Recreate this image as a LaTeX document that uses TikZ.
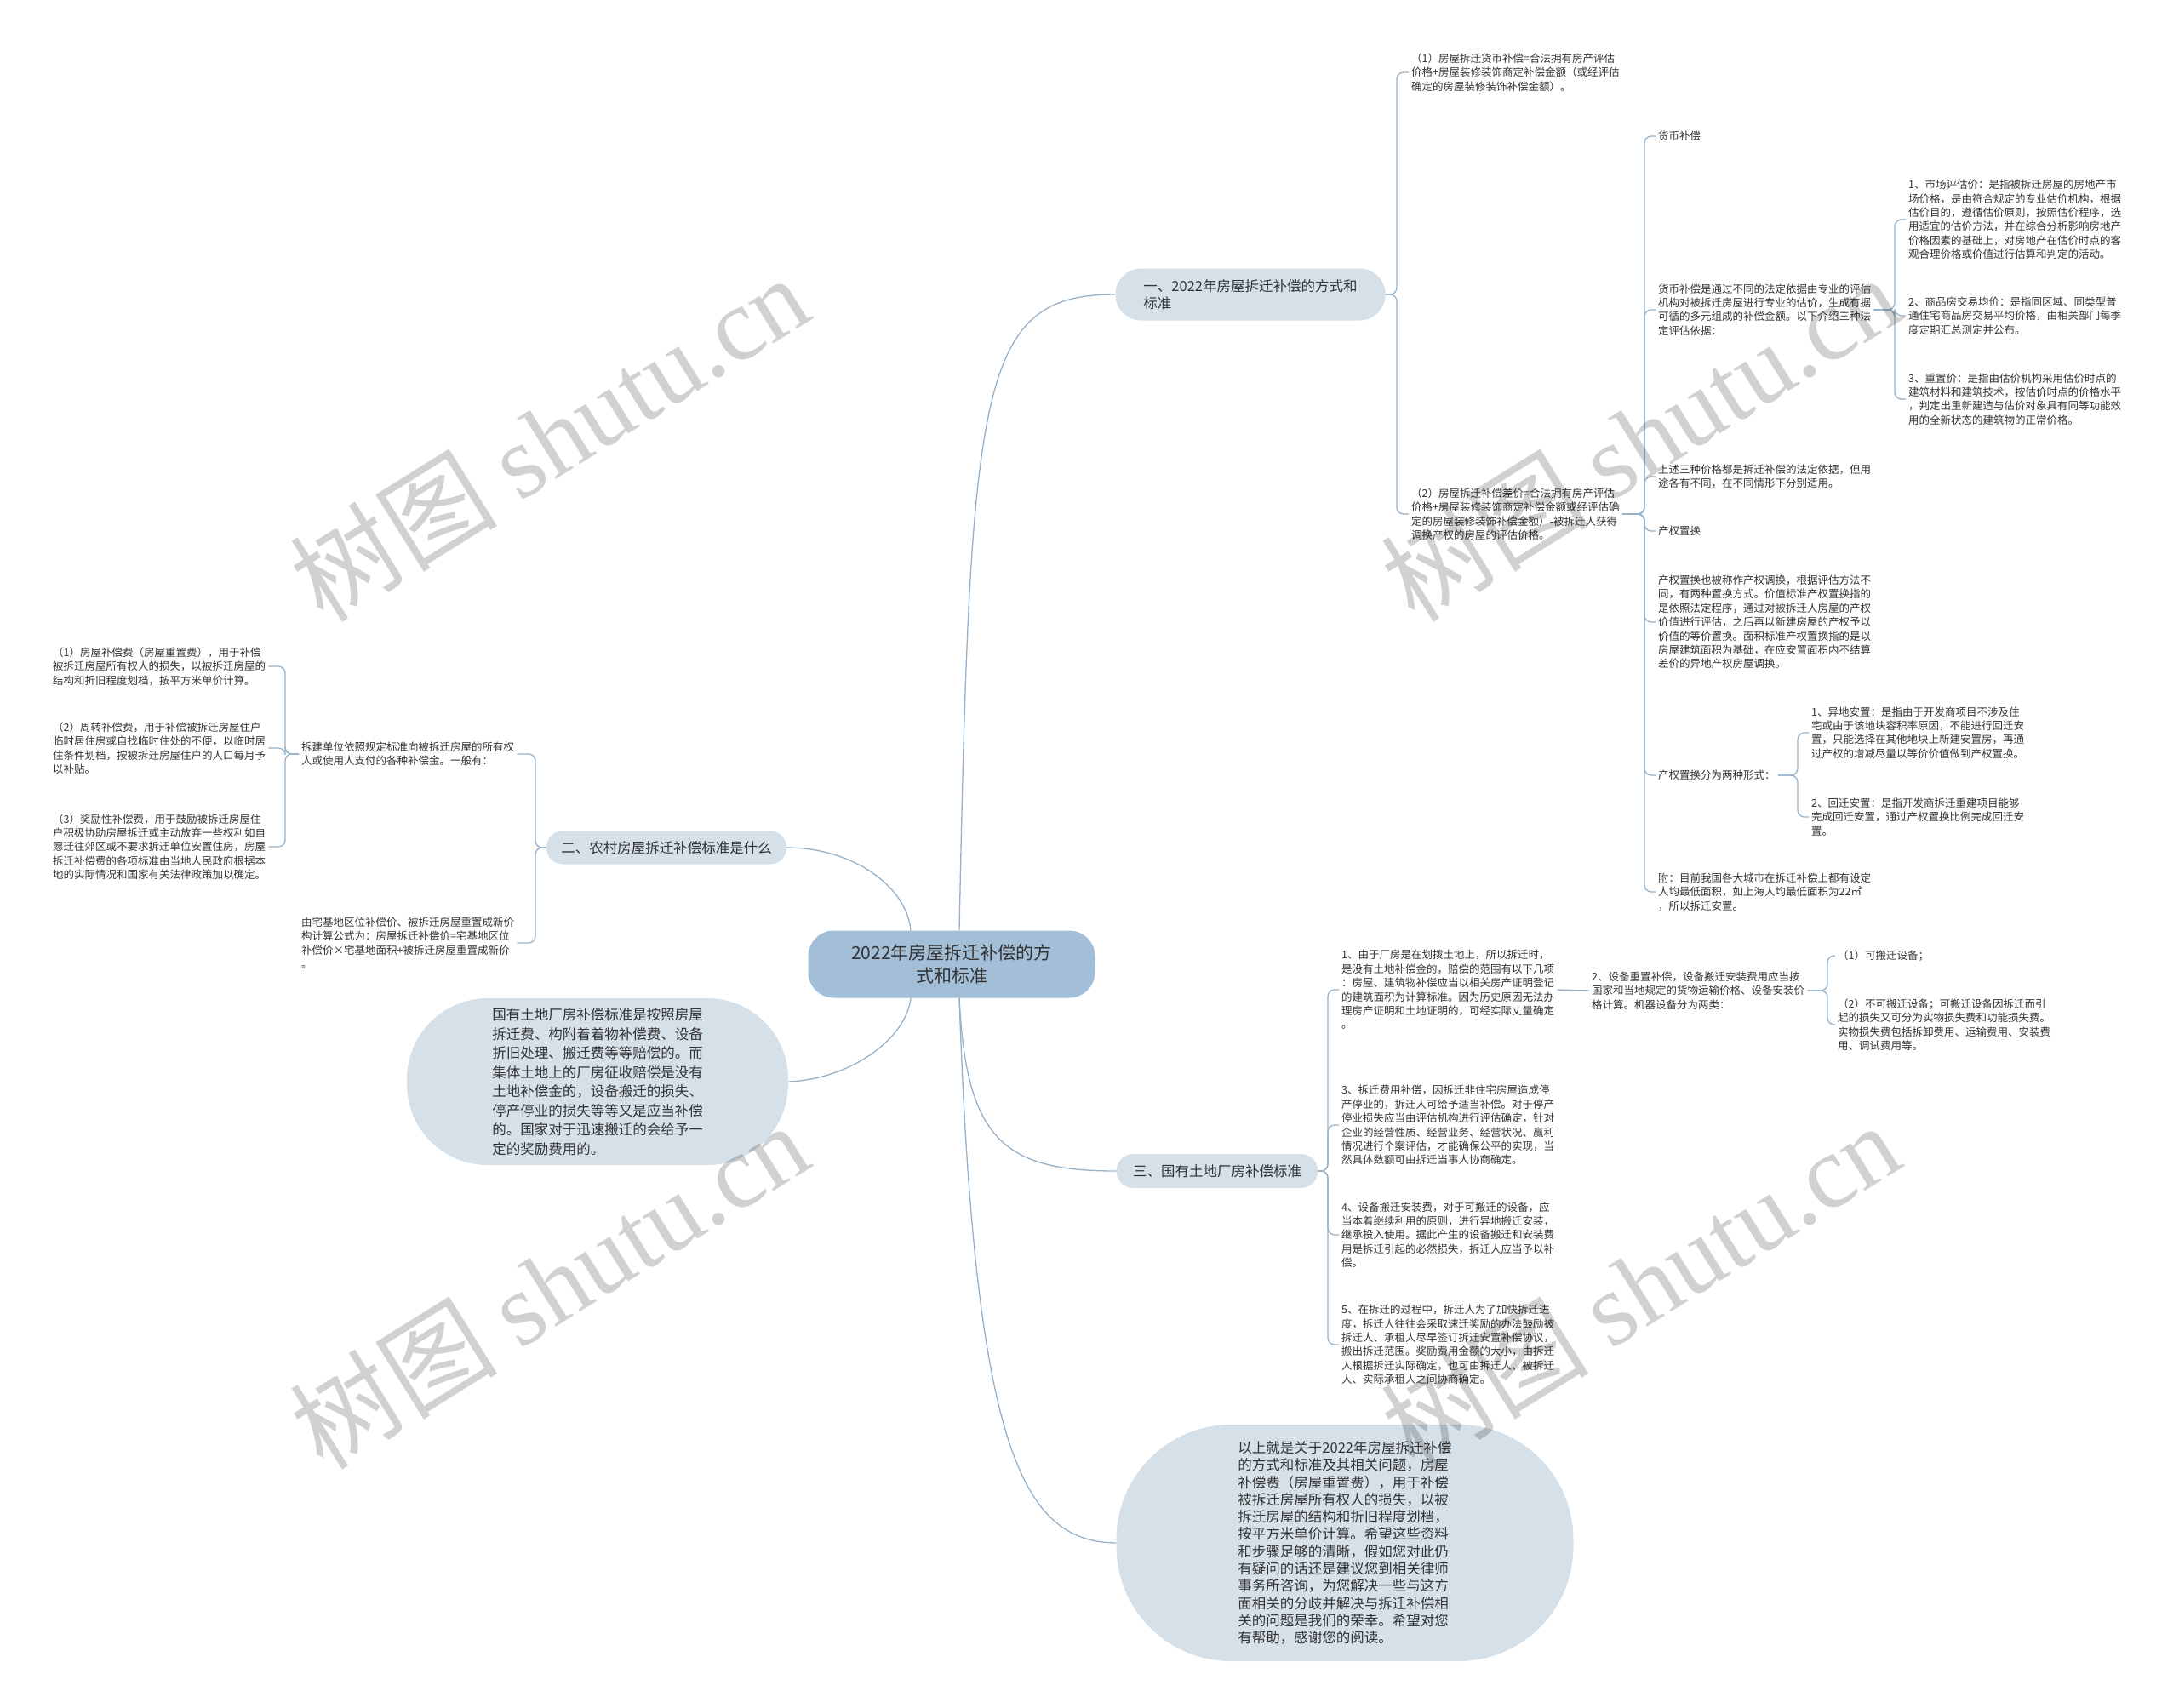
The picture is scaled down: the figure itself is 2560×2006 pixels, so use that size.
\documentclass[tikz,border=0pt]{standalone}
\usepackage{fontspec}
\setmainfont{Noto Sans CJK SC}
\newfontfamily\wmlatin{Liberation Serif}
\usetikzlibrary{positioning, calc}

\definecolor{linkc}{RGB}{150,177,200}
\definecolor{boxc}{RGB}{213,224,233}
\definecolor{rootc}{RGB}{163,190,215}
\definecolor{txt}{RGB}{51,51,51}

\begin{document}
\begin{tikzpicture}[x=1pt, y=-1pt,
    link/.style={draw=linkc, line width=1.3pt},
    brace/.style={link, rounded corners=8pt},
    leaf/.style={font=\fontsize{12.5}{16.4}\selectfont, text=txt, align=left, inner sep=3pt, anchor=west},
    topic/.style={fill=boxc, text=txt, font=\fontsize{16.5}{20}\selectfont, align=left, inner sep=0pt},
    bubble/.style={fill=boxc, text=txt, align=left, inner sep=0pt},
    wmark/.style={font=\fontsize{122}{128}\selectfont, text=black, text opacity=0.18, rotate=32}]
    \useasboundingbox (0,0) rectangle (2560,2006);

    % Root
    \node[fill=rootc, text=txt, font=\fontsize{21}{27}\selectfont, align=center, minimum width=337, minimum height=79, rounded corners=30, inner sep=0pt] (root) at (1118,1133) {2022年房屋拆迁补偿的方\\式和标准};

    % Main branches
    \node[topic, minimum width=317, minimum height=61, rounded corners=30] (b1) at (1469,346) {一、2022年房屋拆迁补偿的方式和\\标准};
    \node[topic, minimum width=282, minimum height=39, rounded corners=19] (b2) at (783,996) {二、农村房屋拆迁补偿标准是什么};
    \node[topic, minimum width=237, minimum height=40, rounded corners=20] (b3) at (1430,1376) {三、国有土地厂房补偿标准};
    \node[bubble, font=\fontsize{16.5}{22.5}\selectfont, minimum width=448, minimum height=196, rounded corners=95] (note1) at (702,1271) {国有土地厂房补偿标准是按照房屋\\拆迁费、构附着着物补偿费、设备\\折旧处理、搬迁费等等赔偿的。而\\集体土地上的厂房征收赔偿是没有\\土地补偿金的，设备搬迁的损失、\\停产停业的损失等等又是应当补偿\\的。国家对于迅速搬迁的会给予一\\定的奖励费用的。};
    \node[bubble, font=\fontsize{16.5}{20.3}\selectfont, minimum width=537, minimum height=278, rounded corners=135] (note2) at (1580,1813) {以上就是关于2022年房屋拆迁补偿\\的方式和标准及其相关问题，房屋\\补偿费（房屋重置费），用于补偿\\被拆迁房屋所有权人的损失，以被\\拆迁房屋的结构和折旧程度划档，\\按平方米单价计算。希望这些资料\\和步骤足够的清晰，假如您对此仍\\有疑问的话还是建议您到相关律师\\事务所咨询，为您解决一些与这方\\面相关的分歧并解决与拆迁补偿相\\关的问题是我们的荣幸。希望对您\\有帮助，感谢您的阅读。};

    % Root links
    \draw[link] ([xshift=9]root.north) .. controls (1140,450) and (1150,346) .. (b1.west);
    \draw[link] ([xshift=9]root.south) .. controls (1135,1340) and (1180,1376) .. (b3.west);
    \draw[link] ([xshift=9]root.south) .. controls (1145,1700) and (1200,1812) .. (note2.west);
    \draw[link] (b2.east) .. controls (1000,996) and (1065,1040) .. ([xshift=-48]root.north);
    \draw[link] (note1.east) .. controls (1000,1268) and (1065,1220) .. ([xshift=-48]root.south);

    % Branch one
    \node[leaf] (m1) at (1655,85) {（1）房屋拆迁货币补偿=合法拥有房产评估\\价格+房屋装修装饰商定补偿金额（或经评估\\确定的房屋装修装饰补偿金额）。};
    \node[leaf] (m2) at (1655,604) {（2）房屋拆迁补偿差价=合法拥有房产评估\\价格+房屋装修装饰商定补偿金额或经评估确\\定的房屋装修装饰补偿金额）-被拆迁人获得\\调换产权的房屋的评估价格。};
    \coordinate (sp1) at (1641,0);
    \foreach \c in {m1,m2}
        \draw[brace] (b1.east) -- (b1.east -| sp1) |- (\c.west);

    \node[leaf] (m2a) at (1945,160) {货币补偿};
    \node[leaf] (m2b) at (1945,364) {货币补偿是通过不同的法定依据由专业的评估\\机构对被拆迁房屋进行专业的估价，生成有据\\可循的多元组成的补偿金额。以下介绍三种法\\定评估依据：};
    \node[leaf] (m2c) at (1945,560) {上述三种价格都是拆迁补偿的法定依据，但用\\途各有不同，在不同情形下分别适用。};
    \node[leaf] (m2d) at (1945,624) {产权置换};
    \node[leaf] (m2e) at (1945,731) {产权置换也被称作产权调换，根据评估方法不\\同，有两种置换方式。价值标准产权置换指的\\是依照法定程序，通过对被拆迁人房屋的产权\\价值进行评估，之后再以新建房屋的产权予以\\价值的等价置换。面积标准产权置换指的是以\\房屋建筑面积为基础，在应安置面积内不结算\\差价的异地产权房屋调换。};
    \node[leaf] (m2f) at (1945,911) {产权置换分为两种形式：};
    \node[leaf] (m2g) at (1945,1048) {附：目前我国各大城市在拆迁补偿上都有设定\\人均最低面积，如上海人均最低面积为22㎡\\，所以拆迁安置。};
    \coordinate (sp2) at (1932,0);
    \foreach \c in {m2a,m2b,m2c,m2d,m2e,m2f,m2g}
        \draw[brace] (m2.east) -- (m2.east -| sp2) |- (\c.west);

    \node[leaf] (v1) at (2239,258) {1、市场评估价：是指被拆迁房屋的房地产市\\场价格，是由符合规定的专业估价机构，根据\\估价目的，遵循估价原则，按照估价程序，选\\用适宜的估价方法，并在综合分析影响房地产\\价格因素的基础上，对房地产在估价时点的客\\观合理价格或价值进行估算和判定的活动。};
    \node[leaf] (v2) at (2239,371) {2、商品房交易均价：是指同区域、同类型普\\通住宅商品房交易平均价格，由相关部门每季\\度定期汇总测定并公布。};
    \node[leaf] (v3) at (2239,469) {3、重置价：是指由估价机构采用估价时点的\\建筑材料和建筑技术，按估价时点的价格水平\\，判定出重新建造与估价对象具有同等功能效\\用的全新状态的建筑物的正常价格。};
    \coordinate (sp3) at (2226,0);
    \foreach \c in {v1,v2,v3}
        \draw[brace] (m2b.east) -- (m2b.east -| sp3) |- (\c.west);

    \node[leaf] (r1) at (2125,861) {1、异地安置：是指由于开发商项目不涉及住\\宅或由于该地块容积率原因，不能进行回迁安\\置，只能选择在其他地块上新建安置房，再通\\过产权的增减尽量以等价价值做到产权置换。};
    \node[leaf] (r2) at (2125,960) {2、回迁安置：是指开发商拆迁重建项目能够\\完成回迁安置，通过产权置换比例完成回迁安\\置。};
    \coordinate (sp4) at (2112,0);
    \foreach \c in {r1,r2}
        \draw[brace] (m2f.east) -- (m2f.east -| sp4) |- (\c.west);

    % Branch two
    \node[leaf] (n1) at (351,886) {拆建单位依照规定标准向被拆迁房屋的所有权\\人或使用人支付的各种补偿金。一般有：};
    \node[leaf] (n2) at (351,1108) {由宅基地区位补偿价、被拆迁房屋重置成新价\\构计算公式为：房屋拆迁补偿价=宅基地区位\\补偿价×宅基地面积+被拆迁房屋重置成新价\\。};
    \coordinate (sp5) at (629,0);
    \foreach \c in {n1,n2}
        \draw[brace] (b2.west) -- (b2.west -| sp5) |- (\c.east);

    \node[leaf] (f1) at (59,783) {（1）房屋补偿费（房屋重置费），用于补偿\\被拆迁房屋所有权人的损失，以被拆迁房屋的\\结构和折旧程度划档，按平方米单价计算。};
    \node[leaf] (f2) at (59,879) {（2）周转补偿费，用于补偿被拆迁房屋住户\\临时居住房或自找临时住处的不便，以临时居\\住条件划档，按被拆迁房屋住户的人口每月予\\以补贴。};
    \node[leaf] (f3) at (59,995) {（3）奖励性补偿费，用于鼓励被拆迁房屋住\\户积极协助房屋拆迁或主动放弃一些权利如自\\愿迁往郊区或不要求拆迁单位安置住房，房屋\\拆迁补偿费的各项标准由当地人民政府根据本\\地的实际情况和国家有关法律政策加以确定。};
    \coordinate (sp6) at (335,0);
    \foreach \c in {f1,f2,f3}
        \draw[brace] (n1.west) -- (n1.west -| sp6) |- (\c.east);

    % Branch three
    \node[leaf] (s1) at (1573,1163) {1、由于厂房是在划拨土地上，所以拆迁时，\\是没有土地补偿金的，赔偿的范围有以下几项\\：房屋、建筑物补偿应当以相关房产证明登记\\的建筑面积为计算标准。因为历史原因无法办\\理房产证明和土地证明的，可经实际丈量确定\\。};
    \node[leaf] (s3) at (1573,1322) {3、拆迁费用补偿，因拆迁非住宅房屋造成停\\产停业的，拆迁人可给予适当补偿。对于停产\\停业损失应当由评估机构进行评估确定，针对\\企业的经营性质、经营业务、经营状况、赢利\\情况进行个案评估，才能确保公平的实现，当\\然具体数额可由拆迁当事人协商确定。};
    \node[leaf] (s4) at (1573,1451) {4、设备搬迁安装费，对于可搬迁的设备，应\\当本着继续利用的原则，进行异地搬迁安装，\\继承投入使用。据此产生的设备搬迁和安装费\\用是拆迁引起的必然损失，拆迁人应当予以补\\偿。};
    \node[leaf] (s5) at (1573,1580) {5、在拆迁的过程中，拆迁人为了加快拆迁进\\度，拆迁人往往会采取速迁奖励的办法鼓励被\\拆迁人、承租人尽早签订拆迁安置补偿协议，\\搬出拆迁范围。奖励费用金额的大小，由拆迁\\人根据拆迁实际确定，也可由拆迁人、被拆迁\\人、实际承租人之间协商确定。};
    \coordinate (sp7) at (1560,0);
    \foreach \c in {s1,s3,s4,s5}
        \draw[brace] (b3.east) -- (b3.east -| sp7) |- (\c.west);

    \node[leaf] (s2) at (1867,1164) {2、设备重置补偿，设备搬迁安装费用应当按\\国家和当地规定的货物运输价格、设备安装价\\格计算。机器设备分为两类：};
    \draw[link] (s1.east) -- (s2.west);

    \node[leaf] (e1) at (2156,1123) {（1）可搬迁设备；};
    \node[leaf] (e2) at (2156,1204) {（2）不可搬迁设备；可搬迁设备因拆迁而引\\起的损失又可分为实物损失费和功能损失费。\\实物损失费包括拆卸费用、运输费用、安装费\\用、调试费用等。};
    \coordinate (sp8) at (2147,0);
    \foreach \c in {e1,e2}
        \draw[brace] (s2.east) -- (s2.east -| sp8) |- (\c.west);

    % Watermarks
    \foreach \wx/\wy in {645/514, 1927/514, 645/1510, 1927/1510}
        \node[wmark] at (\wx,\wy) {树图 {\wmlatin shutu.cn}};
\end{tikzpicture}
\end{document}
